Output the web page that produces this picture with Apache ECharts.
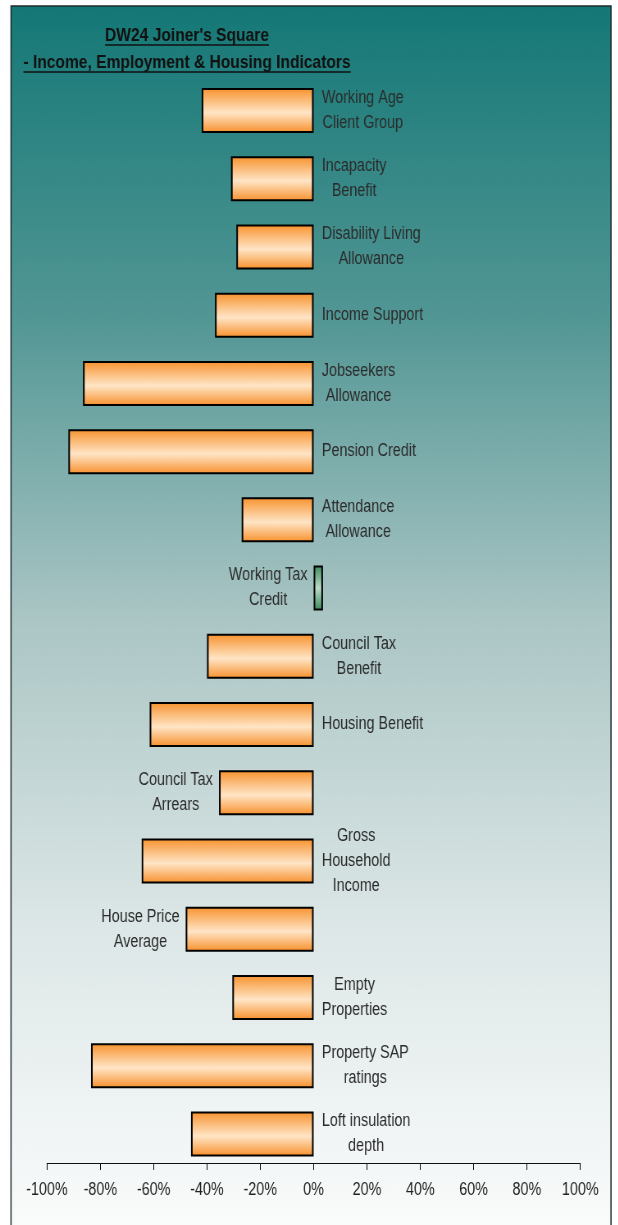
<!DOCTYPE html>
<html>
<head>
<meta charset="utf-8">
<script src="https://cdn.jsdelivr.net/npm/echarts@6/dist/echarts.min.js"></script>
<style>
  html, body { margin: 0; padding: 0; background: #fff; overflow: hidden; }
  /* the original uses a narrow font: draw wider, then squeeze horizontally */
  #chart { width: 754px; height: 1225px; transform: scaleX(0.82); transform-origin: 0 0; }
</style>
</head>
<body>
<div id="chart"></div>
<script>
const titleLines = ["DW24 Joiner's Square", '- Income, Employment & Housing Indicators'];
const categories = [
  'Working Age\nClient Group', 'Incapacity\nBenefit', 'Disability Living\nAllowance', 'Income Support',
  'Jobseekers\nAllowance', 'Pension Credit', 'Attendance\nAllowance', 'Working Tax\nCredit',
  'Council Tax\nBenefit', 'Housing Benefit', 'Council Tax\nArrears', 'Gross\nHousehold\nIncome',
  'House Price\nAverage', 'Empty\nProperties', 'Property SAP\nratings', 'Loft insulation\ndepth'
];
const values = [-42, -31, -29, -37, -86.5, -92, -27, 3.5, -40, -61.5, -35.5, -64.5, -48, -30.5, -83.5, -46];
const axisMin = -100;
const axisMax = 100;
const axisStep = 20;

// labels that sit on the left of their bar
const leftLabelled = ['Working Tax\nCredit', 'Council Tax\nArrears', 'House Price\nAverage'];

const K = 0.82; // horizontal squeeze, see css
const FONT = '"Liberation Sans", Arial, sans-serif';

const orangeFill = new echarts.graphic.LinearGradient(0, 0, 0, 1, [
  { offset: 0, color: '#f7912c' },
  { offset: 0.55, color: '#ffe5c6' },
  { offset: 1, color: '#f78f2a' }
]);
const greenFill = new echarts.graphic.LinearGradient(0, 0, 0, 1, [
  { offset: 0, color: '#3c8c5e' },
  { offset: 0.5, color: '#b9dcc5' },
  { offset: 1, color: '#3a8a5c' }
]);

const chart = echarts.init(document.getElementById('chart'));

// measure title widths for the underlines
const ctx = document.createElement('canvas').getContext('2d');
ctx.font = 'bold 19px ' + FONT;
const tw = titleLines.map(t => ctx.measureText(t).width);
const titleX = 187 / K;

const option = {
  backgroundColor: '#ffffff',
  animation: false,
  title: [
    { text: titleLines[0], left: titleX, top: 26, textAlign: 'center', padding: 0,
      textStyle: { fontFamily: FONT, fontSize: 19, fontWeight: 'bold', color: '#111' } },
    { text: titleLines[1], left: titleX, top: 53, textAlign: 'center', padding: 0,
      textStyle: { fontFamily: FONT, fontSize: 19, fontWeight: 'bold', color: '#111' } }
  ],
  graphic: [
    {
      type: 'rect', z: -10, silent: true,
      shape: { x: 11 / K, y: 6, width: 600 / K, height: 1230 },
      style: {
        fill: new echarts.graphic.LinearGradient(0, 0, 0, 1, [
          { offset: 0, color: '#147876' },
          { offset: 0.25, color: '#519694' },
          { offset: 0.5, color: '#abc6c5' },
          { offset: 0.75, color: '#dde7e7' },
          { offset: 1, color: '#fbfcfc' }
        ]),
        stroke: '#1d2b2b', lineWidth: 1.5
      }
    },
    { type: 'line', z: 10, silent: true,
      shape: { x1: titleX - tw[0] / 2, y1: 45, x2: titleX + tw[0] / 2, y2: 45 },
      style: { stroke: '#111', lineWidth: 1.5 } },
    { type: 'line', z: 10, silent: true,
      shape: { x1: titleX - tw[1] / 2, y1: 72, x2: titleX + tw[1] / 2, y2: 72 },
      style: { stroke: '#111', lineWidth: 1.5 } }
  ],
  grid: { left: 47 / K, right: 38 / K, top: 76.4, bottom: 57, containLabel: false },
  xAxis: {
    type: 'value', min: axisMin, max: axisMax, interval: axisStep,
    offset: -5,
    axisLine: { show: true, lineStyle: { color: '#111', width: 1 } },
    axisTick: { show: true, length: 7, lineStyle: { color: '#111' } },
    axisLabel: { formatter: '{value}%', margin: 18, fontFamily: FONT, fontSize: 17.5, color: '#222' },
    splitLine: { show: false }
  },
  yAxis: {
    type: 'category', inverse: true, data: categories,
    axisLine: { show: false }, axisTick: { show: false }, axisLabel: { show: false }
  },
  series: [{
    type: 'bar',
    barWidth: 45,
    data: values.map((v, i) => {
      const onLeft = leftLabelled.includes(categories[i]);
      return {
        value: v,
        itemStyle: { color: v > 0 ? greenFill : orangeFill },
        label: { position: onLeft ? 'left' : 'right', distance: onLeft ? 7.5 : 10 }
      };
    }),
    itemStyle: { borderColor: '#000', borderWidth: 2 },
    label: {
      show: true,
      formatter: p => p.name.split('\n').map(s => '{c|' + s + '}').join('\n'),
      rich: { c: { align: 'center', fontFamily: FONT, fontSize: 17.5, lineHeight: 25, color: '#2b2b2b' } }
    }
  }]
};
chart.setOption(option);
</script>
</body>
</html>
